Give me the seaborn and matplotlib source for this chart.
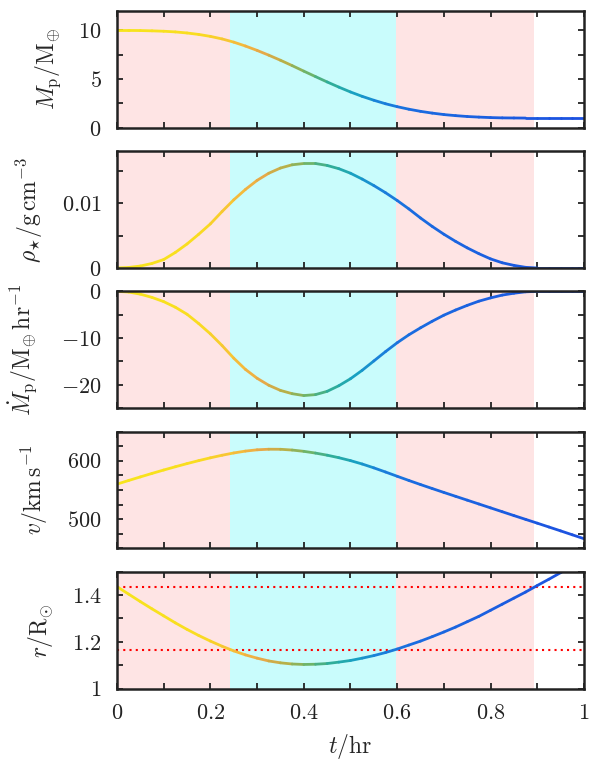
import numpy as np
import pandas as pd
import seaborn as sns
import matplotlib.pyplot as plt
from matplotlib.colors import LinearSegmentedColormap
from matplotlib.ticker import MultipleLocator, FuncFormatter

# time samples (hr)
t = [0.000, 0.025, 0.050, 0.075, 0.100, 0.125, 0.150, 0.175, 0.200, 0.225,
     0.250, 0.275, 0.300, 0.325, 0.350, 0.375, 0.400, 0.425, 0.450, 0.475,
     0.500, 0.525, 0.550, 0.575, 0.600, 0.625, 0.650, 0.675, 0.700, 0.725,
     0.750, 0.775, 0.800, 0.825, 0.850, 0.875, 0.900, 0.925, 0.950, 0.975,
     1.000]

# planet mass / M_earth
m_p = [10.00, 10.00, 9.99, 9.96, 9.92, 9.85, 9.74, 9.59, 9.39, 9.13,
       8.80, 8.40, 7.95, 7.46, 6.94, 6.39, 5.82, 5.26, 4.71, 4.18,
       3.68, 3.23, 2.83, 2.47, 2.17, 1.91, 1.69, 1.51, 1.36, 1.25,
       1.16, 1.10, 1.05, 1.02, 1.01, 1.00, 1.00, 1.00, 1.00, 1.00,
       1.00]

# stellar density at the planet / g cm^-3
rho_star = [0.0, 0.00008, 0.0003, 0.0007, 0.0013, 0.0024, 0.0037, 0.0052, 0.0068, 0.0087,
            0.0105, 0.0121, 0.0135, 0.0146, 0.0154, 0.0159, 0.0161, 0.0161, 0.0158, 0.0153,
            0.0146, 0.0137, 0.0127, 0.0116, 0.0104, 0.0091, 0.0077, 0.0064, 0.0052, 0.0041,
            0.0031, 0.0022, 0.0014, 0.0008, 0.0004, 0.0001, 0.0, 0.0, 0.0, 0.0,
            0.0]

# mass loss rate / M_earth hr^-1
m_dot = [0.0, -0.15, -0.6, -1.3, -2.2, -3.4, -4.9, -6.9, -9.1, -11.6,
         -14.3, -16.7, -18.6, -20.1, -21.2, -21.9, -22.3, -22.1, -21.4, -20.2,
         -18.7, -16.9, -14.9, -12.9, -11.0, -9.3, -7.8, -6.4, -5.1, -4.0,
         -3.0, -2.1, -1.4, -0.8, -0.4, -0.1, 0.0, 0.0, 0.0, 0.0,
         0.0]

# velocity / km s^-1
vel = [560.0, 566.2, 572.3, 578.3, 584.1, 589.7, 595.1, 600.2, 605.0, 609.4,
       613.3, 616.5, 618.7, 619.7, 619.6, 618.3, 616.1, 613.1, 609.5, 605.2,
       600.2, 594.4, 587.8, 580.7, 573.4, 566.2, 559.2, 552.4, 545.7, 539.1,
       532.5, 525.9, 519.3, 512.7, 506.1, 499.6, 493.1, 486.5, 479.9, 473.2,
       466.5]

# orbital distance / R_sun
rad = [1.436, 1.404, 1.372, 1.341, 1.311, 1.281, 1.253, 1.227, 1.203, 1.181,
       1.161, 1.144, 1.130, 1.118, 1.110, 1.105, 1.103, 1.104, 1.107, 1.113,
       1.120, 1.130, 1.141, 1.154, 1.169, 1.186, 1.203, 1.222, 1.242, 1.263,
       1.286, 1.309, 1.335, 1.361, 1.387, 1.413, 1.441, 1.468, 1.496, 1.524,
       1.552]

# phase boundaries (hr) and reference radii
phase_edges = [0.0, 0.243, 0.598, 0.892]
r_marks = [1.433, 1.167]

sns.set_theme(style="ticks")
plt.rcParams['font.family'] = ['serif']
plt.rcParams['font.serif'] = ['cmr10', 'DejaVu Serif']
plt.rcParams['mathtext.fontset'] = 'cm'

line_cmap = LinearSegmentedColormap.from_list("tcol", [
    (0.00, '#f7e51c'), (0.18, '#f9dc20'), (0.25, '#f7c038'), (0.31, '#eaa848'),
    (0.36, '#b8b048'), (0.41, '#70b468'), (0.46, '#30ae98'), (0.51, '#18a2c0'),
    (0.56, '#1a84d8'), (0.63, '#1a6ce0'), (1.00, '#1c50e0')])

pink = '#fee4e4'
cyan = '#c9fcfc'
dark = '#222222'
tick_fs = 16
lab_fs = 17


def gradient_line(ax, x, y):
    rows = []
    for i in range(len(x) - 1):
        tm = 0.5 * (x[i] + x[i + 1])
        rows.append((x[i], y[i], tm))
        rows.append((x[i + 1], y[i + 1], tm))
    df = pd.DataFrame(rows, columns=['t', 'val', 'tm'])
    sns.lineplot(data=df, x='t', y='val', hue='tm', palette=line_cmap,
                 hue_norm=(0, 1), estimator=None, sort=False, legend=False,
                 lw=2.0, solid_capstyle='round', ax=ax, zorder=3)


fig, axes = plt.subplots(5, 1, sharex=True, figsize=(5.93, 7.63), dpi=100)
fig.subplots_adjust(left=0.1973, right=0.9848, top=0.9856, bottom=0.0976, hspace=0.2)

series = [m_p, rho_star, m_dot, vel, rad]
ylabels = [r'$M_{\rm p}/{\rm M}_{\oplus}$',
           r'$\rho_{\star}/{\rm g\,cm}^{-3}$',
           r'$\dot{M}_{\rm p}/{\rm M}_{\oplus}\,{\rm hr}^{-1}$',
           r'$v/{\rm km\,s}^{-1}$',
           r'$r/{\rm R}_{\odot}$']
ylims = [(0, 12), (0, 0.018), (-25, 0), (450, 650), (1, 1.5)]
ymaj = [5, 0.01, 10, 100, 0.2]
ymin = [2.5, 0.005, 5, 25, 0.1]
# right edge of each y label, in axes fraction
ylab_x = [-0.116, -0.154, -0.165, -0.143, -0.133]

for ax, y, lab, lim, mj, mn, lx in zip(axes, series, ylabels, ylims, ymaj, ymin, ylab_x):
    ax.axvspan(phase_edges[0], phase_edges[1], color=pink, lw=0, zorder=0)
    ax.axvspan(phase_edges[1], phase_edges[2], color=cyan, lw=0, zorder=0)
    ax.axvspan(phase_edges[2], phase_edges[3], color=pink, lw=0, zorder=0)
    gradient_line(ax, t, y)
    ax.set_ylim(*lim)
    ax.set_xlim(0, 1)
    ax.yaxis.set_major_locator(MultipleLocator(mj))
    ax.yaxis.set_minor_locator(MultipleLocator(mn))
    ax.xaxis.set_major_locator(MultipleLocator(0.2))
    ax.xaxis.set_minor_locator(MultipleLocator(0.1))
    ax.yaxis.set_major_formatter(FuncFormatter(lambda v, p: '$%g$' % v))
    ax.xaxis.set_major_formatter(FuncFormatter(lambda v, p: '$%g$' % v))
    ax.set_ylabel(lab, fontsize=lab_fs)
    ax.yaxis.set_label_coords(lx, 0.5)
    ax.set_xlabel('')
    ax.tick_params(which='both', direction='in', top=True, right=True,
                   length=4, width=1.3, color=dark, labelsize=tick_fs,
                   labelcolor=dark, pad=11)
    for s in ax.spines.values():
        s.set_linewidth(1.8)
        s.set_color(dark)
        s.set_zorder(4)

for lvl in r_marks:
    axes[4].axhline(lvl, color='red', ls=(0, (1, 2)), lw=1.5, zorder=2.5)

axes[4].set_xlabel(r'$t/{\rm hr}$', fontsize=lab_fs)
axes[4].xaxis.set_label_coords(0.5, -0.37)

plt.savefig('out.png', dpi=100)
